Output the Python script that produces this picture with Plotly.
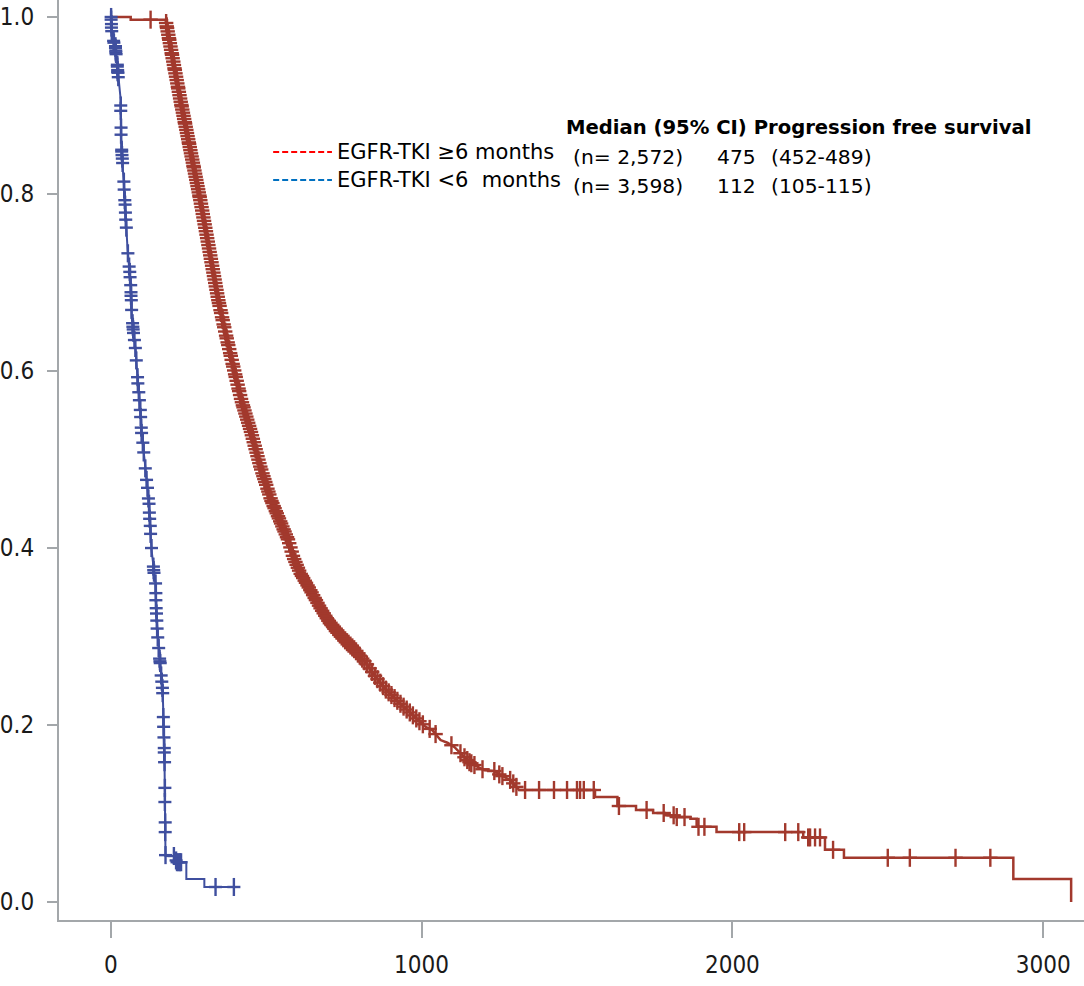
import numpy as np
import plotly.graph_objects as go

# ---------------- data ----------------
# Kaplan-Meier curve, EGFR-TKI >= 6 months : time (days) / survival
long_t = [0, 64, 64, 176, 224, 288, 346, 369, 394, 420, 452, 481, 516, 561,
          571, 587, 609, 641, 673, 705, 753, 785, 821, 853, 885, 929, 978,
          1013, 1035, 1061, 1083, 1106, 1131, 1154, 1179, 1202, 1234, 1253,
          1285, 1314, 1558, 1558, 1630, 1630, 1690, 1690, 1745, 1745, 1782,
          1782, 1814, 1814, 1865, 1865, 1885, 1885, 1949, 1949, 2228, 2228,
          2298, 2298, 2359, 2359, 2904, 2904, 3090, 3090]
long_s = [1.0, 1.0, 0.997, 0.997, 0.906, 0.793, 0.680, 0.643, 0.605, 0.567,
          0.530, 0.492, 0.454, 0.417, 0.409, 0.390, 0.372, 0.353, 0.333,
          0.315, 0.296, 0.285, 0.270, 0.254, 0.240, 0.225, 0.209, 0.198,
          0.194, 0.183, 0.180, 0.175, 0.166, 0.158, 0.153, 0.149, 0.148,
          0.1435, 0.138, 0.1266, 0.1266, 0.1186, 0.1186, 0.1085, 0.1085,
          0.104, 0.104, 0.1006, 0.1006, 0.098, 0.098, 0.096, 0.096, 0.094,
          0.094, 0.085, 0.085, 0.079, 0.079, 0.073, 0.073, 0.059, 0.059,
          0.050, 0.050, 0.026, 0.026, 0.0]
# censoring times (days), EGFR-TKI >= 6 months (very dense early on)
long_cens_t = [
    128,
    178, 180, 181, 183, 185, 187, 188, 190, 192, 194, 196, 197, 199, 201, 203,
    205, 206, 208, 210, 212, 214, 216, 217, 219, 221, 223, 225, 227, 228, 230,
    232, 234, 236, 238, 239, 241, 243, 245, 247, 249, 251, 252, 254, 256, 258,
    260, 262, 264, 266, 267, 269, 271, 273, 275, 277, 279, 281, 283, 285, 286,
    288, 290, 292, 294, 296, 298, 300, 302, 304, 306, 308, 310, 312, 314, 316,
    318, 320, 322, 324, 326, 328, 330, 332, 334, 336, 338, 340, 342, 344, 346,
    348,
    350, 353, 355, 358, 360, 363, 365, 368, 371, 373, 376, 378, 381, 384, 386,
    389, 392, 394, 397, 400, 402, 405, 408, 411, 413, 416, 419, 422, 425, 427,
    430, 433, 436, 439, 442, 445, 448, 451, 454, 457, 460, 463, 466, 469, 472,
    475, 478, 481, 484, 488, 491, 494, 497, 500, 504, 507, 510, 514, 517, 520,
    524, 527, 531, 534, 538, 541, 545, 548, 552, 556, 559, 563, 567, 570, 574,
    578, 582, 586, 590, 594, 598,
    602, 606, 611, 615, 619, 624, 628, 633, 637, 642, 646, 651, 656, 660, 665,
    670, 675, 680, 685, 690, 695, 700, 705, 710, 716, 721, 726, 732, 737, 743,
    748, 754, 760, 765, 771, 777, 783, 789, 795,
    801, 809, 816, 824, 833, 841, 850, 858, 867, 876, 885, 894, 903, 913, 922,
    932, 942, 952, 962, 972, 983, 993, 1004,
    1026, 1045, 1096, 1125, 1138, 1147, 1154, 1160, 1170, 1196, 1234, 1250,
    1260, 1285, 1295, 1305, 1333, 1378, 1426, 1468, 1500, 1510, 1522, 1554,
    1635, 1724, 1779, 1811, 1821, 1846, 1891, 1910, 2022, 2038, 2170, 2212,
    2244, 2250, 2266, 2282, 2324, 2500, 2571, 2718, 2830]

# Kaplan-Meier curve, EGFR-TKI < 6 months : time (days) / survival
short_t = [0, 3, 16, 22, 32, 33, 35, 42, 48, 54, 64, 67, 80, 87, 96, 99, 111,
           122, 131, 144, 147, 154, 160, 167, 169, 173, 176, 208, 208, 243, 243,
           301, 301, 396]
short_s = [1.0, 0.982, 0.963, 0.940, 0.906, 0.869, 0.846, 0.812, 0.774, 0.737,
           0.699, 0.661, 0.624, 0.586, 0.553, 0.530, 0.492, 0.454, 0.398, 0.360,
           0.322, 0.285, 0.266, 0.240, 0.209, 0.153, 0.052, 0.052, 0.045, 0.045,
           0.026, 0.026, 0.017, 0.017]
# censor marks, EGFR-TKI < 6 months (time in days, survival)
short_cens_t = [1, 1, 2, 2, 3, 9, 10, 15, 15, 16, 16, 17, 21, 21, 22, 22, 23,
                24, 32, 32, 33, 33, 35, 35, 36, 37, 38, 42, 43, 45, 46, 47, 48,
                50, 55, 59, 61, 62, 64, 65, 65, 66, 67, 70, 71, 72, 73, 76, 79,
                82, 86, 87, 90, 92, 95, 96, 98, 99, 103, 106, 111, 115, 118,
                121, 123, 124, 125, 127, 128, 131, 137, 138, 139, 144, 145, 145,
                146, 147, 148, 149, 151, 154, 157, 158, 159, 162, 164, 166, 167,
                169, 170, 171, 172, 172, 173, 174, 174, 175, 175, 176, 203, 210,
                213, 218, 222, 226, 337, 396]
short_cens_s = [1.000, 0.997, 0.992, 0.988, 0.984, 0.973, 0.971, 0.967, 0.965,
                0.962, 0.960, 0.958, 0.946, 0.944, 0.940, 0.938, 0.937, 0.932,
                0.900, 0.894, 0.875, 0.867, 0.850, 0.848, 0.844, 0.840, 0.835,
                0.814, 0.805, 0.793, 0.788, 0.779, 0.771, 0.762, 0.733, 0.718,
                0.712, 0.706, 0.697, 0.689, 0.685, 0.680, 0.669, 0.654, 0.650,
                0.647, 0.643, 0.635, 0.626, 0.612, 0.593, 0.586, 0.576, 0.567,
                0.556, 0.548, 0.536, 0.530, 0.519, 0.508, 0.490, 0.477, 0.468,
                0.456, 0.450, 0.440, 0.433, 0.425, 0.416, 0.400, 0.379, 0.375,
                0.372, 0.360, 0.349, 0.341, 0.332, 0.326, 0.318, 0.309, 0.299,
                0.287, 0.275, 0.272, 0.270, 0.256, 0.249, 0.242, 0.236, 0.209,
                0.198, 0.186, 0.174, 0.169, 0.158, 0.129, 0.113, 0.090, 0.079,
                0.053, 0.052, 0.047, 0.045, 0.045, 0.045, 0.045, 0.017, 0.017]

x_ticks = [0, 1000, 2000, 3000]
x_ticklabels = ["0", "1000", "2000", "3000"]
y_ticks = [0.0, 0.2, 0.4, 0.6, 0.8, 1.0]
y_ticklabels = ["0.0", "0.2", "0.4", "0.6", "0.8", "1.0"]

legend_labels = ["EGFR-TKI \u22656 months", "EGFR-TKI <6\u00a0 months"]
table_header = "Median (95% CI) Progression free survival"
table_n = ["(n= 2,572)", "(n= 3,598)"]
table_median = ["475", "112"]
table_ci = ["(452-489)", "(105-115)"]

# ---------------- style ----------------
RED = "#A2392D"
BLUE = "#3F4F9F"
AX = "#A3A7AA"
TICKFONT = "Liberation Sans Narrow, DejaVu Sans Condensed, Arial Narrow, sans-serif"
TXTFONT = "DejaVu Sans, Verdana, sans-serif"

W, H = 1084, 986
ML, MR, MT, MB = 55, 0, 0, 66
PW, PH = W - ML - MR, H - MT - MB


def paper(px, py):
    return (px - ML) / PW, (H - MB - py) / PH


fig = go.Figure()

long_cens_s = np.interp(long_cens_t, long_t, long_s)

for t, s, cx, cy, col, lw, ew in [
    (long_t, long_s, long_cens_t, long_cens_s, RED, 2.5, 10.3),
    (short_t, short_s, short_cens_t, short_cens_s, BLUE, 2.0, 9.3),
]:
    fig.add_trace(go.Scatter(x=t, y=s, mode="lines",
                             line=dict(color=col, width=lw),
                             hoverinfo="skip", showlegend=False))
    fig.add_trace(go.Scatter(x=cx, y=cy, mode="markers",
                             marker=dict(symbol="line-ns", size=12.9,
                                         line=dict(color=col, width=2.4)),
                             hoverinfo="skip", showlegend=False))
    fig.add_trace(go.Scatter(x=cx, y=cy, mode="markers",
                             marker=dict(symbol="line-ew", size=ew,
                                         line=dict(color=col, width=2.4)),
                             hoverinfo="skip", showlegend=False))

axis_common = dict(showline=True, linecolor=AX, linewidth=2, ticks="outside",
                   tickcolor=AX, tickwidth=2, showgrid=False, zeroline=False,
                   tickfont=dict(family=TICKFONT, size=24, color="#1a1a1a"))
fig.update_xaxes(range=[-166.7, 3131.4], tickvals=x_ticks,
                 ticktext=x_ticklabels, ticklen=16, ticklabelstandoff=6,
                 **axis_common)
fig.update_yaxes(range=[-0.0203, 1.0192], tickvals=y_ticks,
                 ticktext=y_ticklabels, ticklen=10, ticklabelstandoff=8,
                 **axis_common)

annotations = []
shapes = []
legend_colors = ["#FF0000", "#0070C0"]
legend_y = [152, 180]
for lab, col, yy in zip(legend_labels, legend_colors, legend_y):
    x0, y0 = paper(270, yy)
    x1, _ = paper(329, yy)
    shapes.append(dict(type="line", xref="paper", yref="paper", x0=x0, x1=x1,
                       y0=y0, y1=y0, line=dict(color=col, width=2,
                                               dash="6px,3px")))
    ax_, ay_ = paper(332, yy)
    annotations.append(dict(xref="paper", yref="paper", x=ax_, y=ay_,
                            text=lab, showarrow=False, xanchor="left",
                            yanchor="middle",
                            font=dict(family=TXTFONT, size=21, color="#000")))

hx, hy = paper(562, 128)
annotations.append(dict(xref="paper", yref="paper", x=hx, y=hy,
                        text="<b>" + table_header + "</b>", showarrow=False,
                        xanchor="left", yanchor="middle",
                        font=dict(family=TXTFONT, size=19.6, color="#000")))
row_y = [157, 186]
for n, med, ci, yy in zip(table_n, table_median, table_ci, row_y):
    for txt, xx in [(n, 569), (med, 714), (ci, 768)]:
        px_, py_ = paper(xx, yy)
        annotations.append(dict(xref="paper", yref="paper", x=px_, y=py_,
                                text=txt, showarrow=False, xanchor="left",
                                yanchor="middle",
                                font=dict(family=TXTFONT, size=20.3,
                                          color="#000")))

fig.update_layout(width=W, height=H,
                  margin=dict(l=ML, r=MR, t=MT, b=MB, pad=0),
                  paper_bgcolor="white", plot_bgcolor="white",
                  showlegend=False, annotations=annotations, shapes=shapes)

fig.write_html("out.html")
